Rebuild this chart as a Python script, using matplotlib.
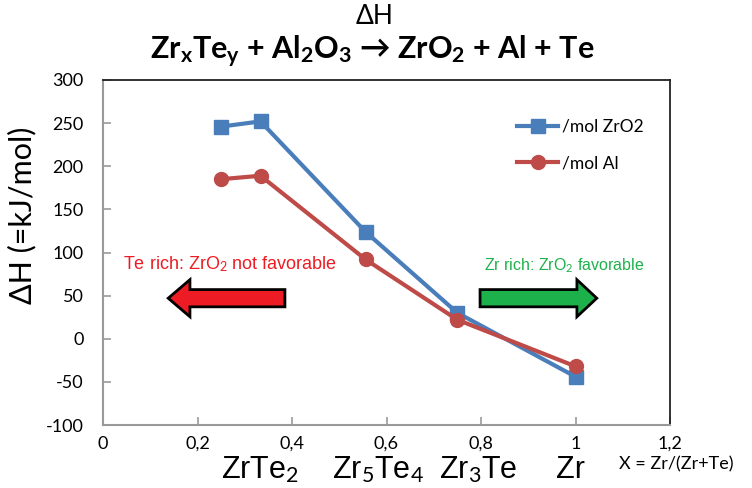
import matplotlib
matplotlib.use("Agg")
import matplotlib.pyplot as plt
import matplotlib.patches as mpatches
import numpy as np

# composition X = Zr/(Zr+Te)
x_vals = [0.25, 1/3, 5/9, 0.75, 1.0]
dh_zro2 = [246, 252, 124, 30, -44]
dh_al = [185, 189, 92, 22, -32]

x_ticks = [0, 0.2, 0.4, 0.6, 0.8, 1.0, 1.2]
x_ticklabels = ["0", "0,2", "0,4", "0,6", "0,8", "1", "1,2"]
y_ticks = [-100, -50, 0, 50, 100, 150, 200, 250, 300]

compounds = ["ZrTe$_2$", "Zr$_5$Te$_4$", "Zr$_3$Te", "Zr"]
compound_pos = [0.277, 0.485, 0.661, 0.824]   # axes fraction

plt.rcParams["font.family"] = ["Lato", "DejaVu Sans"]
plt.rcParams["axes.unicode_minus"] = False
plt.rcParams["mathtext.fontset"] = "custom"
plt.rcParams["mathtext.rm"] = "Lato"
plt.rcParams["mathtext.it"] = "Lato:italic"
plt.rcParams["mathtext.bf"] = "Lato:bold"

W, H = 752, 488
fig = plt.figure(figsize=(W/100, H/100), dpi=100)
ax = fig.add_axes([103/W, 1-425/H, 567/W, 345/H])

blue = "#4A7EBB"
red = "#BE4B48"
ax.plot(x_vals, dh_zro2, color=blue, lw=3, marker="s", ms=10, label="/mol ZrO2")
ax.plot(x_vals, dh_al, color=red, lw=3, marker="o", ms=10, label="/mol Al")

ax.set_xlim(0, 1.2)
ax.set_ylim(-100, 300)
ax.set_xticks(x_ticks)
ax.set_xticklabels(x_ticklabels)
ax.set_yticks(y_ticks)
ax.tick_params(direction="in", length=6, color="#999999", labelsize=13, width=1.2)
ax.tick_params(axis="y", pad=14)
ax.tick_params(axis="x", pad=8)
for s in ["left", "bottom"]:
    ax.spines[s].set_color("#999999")
    ax.spines[s].set_linewidth(1.5)
for s in ["top", "right"]:
    ax.spines[s].set_color("#222222")
    ax.spines[s].set_linewidth(1.3)

ax.legend(loc="upper left", bbox_to_anchor=(508/W, 1-110/H), bbox_transform=fig.transFigure,
          frameon=False, fontsize=12.5, handlelength=2.4, labelspacing=1.2, borderpad=0,
          handletextpad=0.2)

# arrows
arr_red = mpatches.FancyArrow(0.385, 47, -0.247, 0, width=20, head_width=43, head_length=0.046,
                              length_includes_head=True, facecolor="#ED1C24", edgecolor="black", lw=2)
arr_green = mpatches.FancyArrow(0.798, 47, 0.247, 0, width=20, head_width=43, head_length=0.042,
                                length_includes_head=True, facecolor="#1DB14B", edgecolor="black", lw=2)
ax.add_patch(arr_red)
ax.add_patch(arr_green)
ax.text(0.269, 86, "Te rich: ZrO$_2$ not favorable", color="#ED1C24", fontsize=13,
        family="Liberation Sans", ha="center", va="center")
ax.text(0.976, 85, "Zr rich: ZrO$_2$ favorable", color="#1DB14B", fontsize=11.5,
        family="Liberation Sans", ha="center", va="center")

for name, p in zip(compounds, compound_pos):
    ax.text(p, -0.13, name, transform=ax.transAxes, fontsize=22, family="Liberation Sans",
            ha="center", va="center")
ax.text(676/W, 1-464/H, "X = Zr/(Zr+Te)", transform=fig.transFigure, fontsize=13,
        ha="center", va="center")

fig.text(22/W, 1-215/H, "ΔH (=kJ/mol)", rotation=90, fontsize=22, ha="center", va="center")
fig.text(375/W, 1-16/H, "ΔH", fontsize=19, ha="center", va="center")
fig.text(372/W, 1-52/H,
         r"Zr$_\mathbf{x}$Te$_\mathbf{y}$ + Al$_\mathbf{2}$O$_\mathbf{3}$ → ZrO$_\mathbf{2}$ + Al + Te",
         fontsize=22, fontweight="bold", ha="center", va="center")

fig.savefig("out.png", dpi=100)
